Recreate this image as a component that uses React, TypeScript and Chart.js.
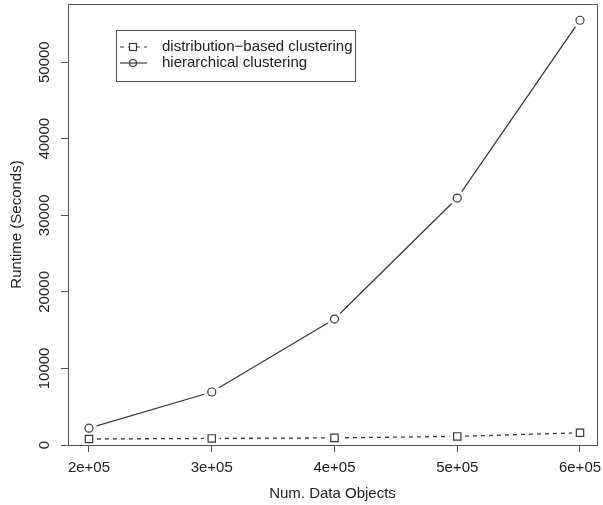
import React, { useEffect, useRef } from "react";
import { Chart, registerables } from "chart.js";

Chart.register(...registerables);

const xValues = [200000, 300000, 400000, 500000, 600000];
const distributionValues = [780, 860, 930, 1120, 1600];
const hierarchicalValues = [2200, 6920, 16450, 32250, 55480];
const xTickValues = [200000, 300000, 400000, 500000, 600000];
const xTickLabels = ["2e+05", "3e+05", "4e+05", "5e+05", "6e+05"];
const yTickValues = [0, 10000, 20000, 30000, 40000, 50000];
const yTickLabels = ["0", "10000", "20000", "30000", "40000", "50000"];
const seriesNames = ["distribution\u2212based clustering", "hierarchical clustering"];
const xTitle = "Num. Data Objects";
const yTitle = "Runtime (Seconds)";

const FONT = "'Liberation Sans', Arial, Helvetica, sans-serif";
const LINE = "#3a3a3a";
const AXIS = "#555555";
const TEXT = "#222222";

export default function App() {
  const ref = useRef<HTMLCanvasElement | null>(null);

  useEffect(() => {
    const canvas = ref.current;
    if (!canvas) return;

    const pts = (ys: number[]) => xValues.map((x, i) => ({ x, y: ys[i] }));

    const boxPlugin = {
      id: "rbox",
      beforeDatasetsDraw(chart: any) {
        const { ctx, chartArea: a } = chart;
        ctx.save();
        ctx.strokeStyle = AXIS;
        ctx.lineWidth = 1;
        ctx.strokeRect(Math.round(a.left) + 0.5, Math.round(a.top) + 0.5, Math.round(a.right - a.left), Math.round(a.bottom - a.top));
        ctx.restore();
      },
      afterDraw(chart: any) {
        const { ctx } = chart;
        const ys = chart.scales.y;
        ctx.save();
        ctx.fillStyle = TEXT;
        ctx.font = `15px ${FONT}`;
        ctx.textAlign = "center";
        ctx.textBaseline = "middle";
        yTickValues.forEach((v, i) => {
          const py = ys.getPixelForValue(v);
          ctx.save();
          ctx.translate(45, py);
          ctx.rotate(-Math.PI / 2);
          ctx.fillText(yTickLabels[i], 0, 0);
          ctx.restore();
        });

        // legend
        const bx = 116.5, by = 30.5, bw = 239, bh = 51;
        ctx.strokeStyle = AXIS;
        ctx.lineWidth = 1;
        ctx.strokeRect(bx, by, bw, bh);
        const rows = [47, 63];
        ctx.textAlign = "left";
        ctx.strokeStyle = LINE;
        ctx.lineWidth = 1.2;
        ctx.setLineDash([4, 4]);
        ctx.beginPath();
        ctx.moveTo(120, rows[0]);
        ctx.lineTo(147, rows[0]);
        ctx.stroke();
        ctx.setLineDash([]);
        ctx.fillStyle = "#ffffff";
        ctx.fillRect(129, rows[0] - 4, 8, 8);
        ctx.strokeRect(129.5, rows[0] - 3.5, 7, 7);
        ctx.beginPath();
        ctx.moveTo(120, rows[1]);
        ctx.lineTo(147, rows[1]);
        ctx.stroke();
        ctx.beginPath();
        ctx.arc(133, rows[1], 3.5, 0, Math.PI * 2);
        ctx.stroke();
        ctx.fillStyle = TEXT;
        ctx.fillText(seriesNames[0], 162, rows[0]);
        ctx.fillText(seriesNames[1], 162, rows[1]);
        ctx.restore();
      },
    };

    const chart = new Chart(canvas, {
      type: "line",
      data: {
        datasets: [
          {
            label: seriesNames[0] + " line",
            data: pts(distributionValues),
            borderColor: LINE,
            borderWidth: 1.3,
            borderDash: [4, 4],
            pointRadius: 0,
            fill: false,
            order: 3,
          },
          {
            label: seriesNames[1] + " line",
            data: pts(hierarchicalValues),
            borderColor: LINE,
            borderWidth: 1.3,
            pointRadius: 0,
            fill: false,
            order: 3,
          },
          {
            label: "halo1",
            data: pts(distributionValues),
            showLine: false,
            pointRadius: 8,
            pointBorderWidth: 0,
            pointBackgroundColor: "#ffffff",
            pointBorderColor: "#ffffff",
            order: 2,
          },
          {
            label: "halo2",
            data: pts(hierarchicalValues),
            showLine: false,
            pointRadius: 8,
            pointBorderWidth: 0,
            pointBackgroundColor: "#ffffff",
            pointBorderColor: "#ffffff",
            order: 2,
          },
          {
            label: seriesNames[0],
            data: pts(distributionValues),
            showLine: false,
            pointStyle: "rect",
            pointRadius: 5.2,
            pointBorderWidth: 1.2,
            pointBackgroundColor: "#ffffff",
            pointBorderColor: LINE,
            order: 1,
          },
          {
            label: seriesNames[1],
            data: pts(hierarchicalValues),
            showLine: false,
            pointStyle: "circle",
            pointRadius: 4,
            pointBorderWidth: 1.2,
            pointBackgroundColor: "#ffffff",
            pointBorderColor: LINE,
            order: 1,
          },
        ],
      },
      options: {
        animation: false,
        responsive: false,
        devicePixelRatio: 1,
        layout: { autoPadding: false, padding: { top: 4, right: 6, left: 0, bottom: 0 } },
        plugins: { legend: { display: false }, tooltip: { enabled: false } },
        scales: {
          x: {
            type: "linear",
            min: 182900,
            max: 613850,
            afterBuildTicks: (s: any) => {
              s.ticks = xTickValues.map((v) => ({ value: v }));
            },
            afterFit: (s: any) => {
              s.height = 60;
              s.paddingRight = 0;
              s.paddingLeft = 0;
            },
            grid: { display: true, drawOnChartArea: false, drawTicks: true, tickLength: 7, color: AXIS, lineWidth: 1 },
            border: { display: false },
            ticks: {
              autoSkip: false,
              maxRotation: 0,
              padding: 7,
              color: TEXT,
              font: { family: FONT, size: 15 },
              callback: (v: any) => {
                const i = xTickValues.indexOf(Number(v));
                return i >= 0 ? xTickLabels[i] : "";
              },
            },
            title: {
              display: true,
              text: xTitle,
              color: TEXT,
              font: { family: FONT, size: 15 },
              padding: { top: 0, bottom: 2 },
            },
          },
          y: {
            type: "linear",
            min: 0,
            max: 57600,
            afterBuildTicks: (s: any) => {
              s.ticks = yTickValues.map((v) => ({ value: v }));
            },
            afterFit: (s: any) => {
              s.width = 68;
              s.paddingTop = 0;
              s.paddingBottom = 0;
            },
            grid: { display: true, drawOnChartArea: false, drawTicks: true, tickLength: 7, color: AXIS, lineWidth: 1 },
            border: { display: false },
            ticks: {
              autoSkip: false,
              padding: 0,
              color: "rgba(0,0,0,0)",
              font: { family: FONT, size: 1 },
            },
            title: {
              display: true,
              text: yTitle,
              color: TEXT,
              font: { family: FONT, size: 15 },
              padding: { top: 8, bottom: 0 },
            },
          },
        },
      },
      plugins: [boxPlugin],
    } as any);

    return () => chart.destroy();
  }, []);

  return (
    <div style={{ position: "absolute", left: 0, top: 0, width: 603, height: 505, background: "#ffffff" }}>
      <canvas ref={ref} width={603} height={505} style={{ display: "block" }} />
    </div>
  );
}
